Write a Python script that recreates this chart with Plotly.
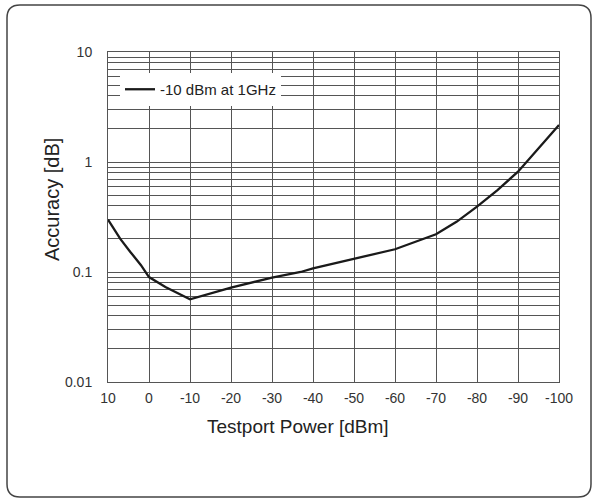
import plotly.graph_objects as go

# ---- data ----
power_dbm = [10, 7, 4.6, 2, 0, -4, -10, -20, -30, -37, -40, -50, -60, -70, -75, -80, -85, -90, -95, -100]
accuracy_db = [0.30, 0.20, 0.153, 0.116, 0.090, 0.073, 0.0565, 0.072, 0.089, 0.100, 0.108, 0.131,
               0.161, 0.220, 0.286, 0.393, 0.556, 0.817, 1.33, 2.17]
series_name = "-10 dBm at 1GHz"
x_ticks = [10, 0, -10, -20, -30, -40, -50, -60, -70, -80, -90, -100]
decades = [0.01, 0.1, 1, 10]
decade_labels = ["0.01", "0.1", "1", "10"]
x_title = "Testport Power [dBm]"
y_title = "Accuracy [dB]"

# gridline positions on log axis (all 1..9 multiples)
y_tickvals = []
y_ticktext = []
for i, d in enumerate(decades[:-1]):
    for m in range(1, 10):
        y_tickvals.append(d * m)
        y_ticktext.append(decade_labels[i] if m == 1 else "")
y_tickvals.append(decades[-1])
y_ticktext.append(decade_labels[-1])

W, H = 593, 502
ML, MR, MT, MB = 108, 34, 52, 120
pw, ph = W - ML - MR, H - MT - MB

def px(xp):
    return (xp - ML) / pw

def py(yp):
    return (H - MB - yp) / ph

fig = go.Figure()
fig.add_trace(go.Scatter(x=power_dbm, y=accuracy_db, mode="lines", name=series_name,
                         line=dict(color="#1a1a1a", width=2.3)))

font_fam = "Liberation Sans, Arial, sans-serif"
grid_col = "#555555"

fig.update_layout(
    width=W, height=H,
    margin=dict(l=ML, r=MR, t=MT, b=MB),
    paper_bgcolor="white", plot_bgcolor="white",
    font=dict(family=font_fam, color="#222"),
    showlegend=True,
    legend=dict(x=px(120), y=py(73), xanchor="left", yanchor="top",
                bgcolor="white", borderwidth=0,
                font=dict(size=15, color="#222", family=font_fam)),
    xaxis=dict(range=[10, -100], tickvals=x_ticks, ticktext=[str(v) for v in x_ticks],
               showgrid=True, gridcolor=grid_col, gridwidth=1,
               showline=True, linecolor=grid_col, linewidth=1, mirror=True,
               ticks="", zeroline=False, ticklabelstandoff=3,
               tickfont=dict(size=14, color="#333", family=font_fam)),
    yaxis=dict(type="log", range=[-2, 1], tickvals=y_tickvals, ticktext=y_ticktext,
               showgrid=True, gridcolor=grid_col, gridwidth=1,
               showline=True, linecolor=grid_col, linewidth=1, mirror=True,
               ticks="", zeroline=False, ticklabelstandoff=12,
               tickfont=dict(size=14, color="#333", family=font_fam)),
)

fig.add_annotation(text=x_title, xref="paper", yref="paper", x=px(298), y=py(427),
                   xanchor="center", yanchor="middle", showarrow=False,
                   font=dict(size=19, color="#222", family=font_fam))
fig.add_annotation(text=y_title, xref="paper", yref="paper", x=px(52), y=py(200),
                   xanchor="center", yanchor="middle", showarrow=False, textangle=-90,
                   font=dict(size=20, color="#222", family=font_fam))

# rounded outer frame
x0, x1, y0, y1 = 7, 591, 5, 497
r = 13
rx, ry = r / pw, r / ph
X0, X1, Y0, Y1 = px(x0), px(x1), py(y0), py(y1)
path = (f"M {X0+rx},{Y0} L {X1-rx},{Y0} Q {X1},{Y0} {X1},{Y0-ry} "
        f"L {X1},{Y1+ry} Q {X1},{Y1} {X1-rx},{Y1} "
        f"L {X0+rx},{Y1} Q {X0},{Y1} {X0},{Y1+ry} "
        f"L {X0},{Y0-ry} Q {X0},{Y0} {X0+rx},{Y0} Z")
fig.add_shape(type="path", path=path, xref="paper", yref="paper",
              line=dict(color="#444", width=1.5), layer="above")

fig.write_html("out.html", config={"displayModeBar": False},
               post_script="document.body.style.margin='0px';")
